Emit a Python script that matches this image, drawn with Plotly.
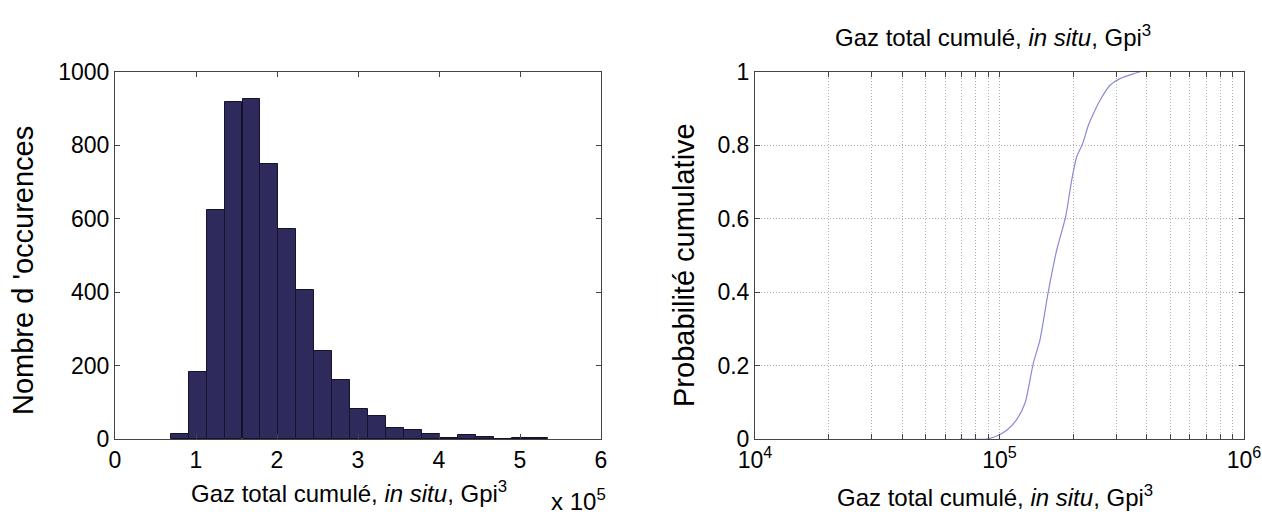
import plotly.graph_objects as go

# ---- Left: histogram (x in units of 1e5 Gpi^3) ----
bin_centers = [0.798, 1.020, 1.241, 1.463, 1.685, 1.907, 2.128, 2.350, 2.572, 2.794,
               3.015, 3.237, 3.459, 3.680, 3.902, 4.124, 4.346, 4.567, 4.789, 5.011, 5.232]
bin_width = 0.2217
counts = [15, 182, 624, 917, 927, 750, 571, 407, 239, 162,
          83, 62, 30, 25, 15, 4, 10, 5, 0, 4, 4]
hist_xticks = [0, 1, 2, 3, 4, 5, 6]
hist_yticks = [0, 200, 400, 600, 800, 1000]

# ---- Right: cumulative probability (log x) ----
cdf_x = [68900, 88600, 98000, 107000, 117600, 127200, 137500, 146400, 158400, 171400,
         186500, 197300, 206900, 218900, 230900, 245800, 257600, 283100, 311100, 352600, 375500]
cdf_p = [0.0, 0.0, 0.009, 0.024, 0.053, 0.098, 0.207, 0.270, 0.402, 0.515,
         0.606, 0.705, 0.769, 0.805, 0.855, 0.896, 0.923, 0.964, 0.982, 0.995, 1.0]
log_tickvals = [1e4, 2e4, 3e4, 4e4, 5e4, 6e4, 7e4, 8e4, 9e4,
                1e5, 2e5, 3e5, 4e5, 5e5, 6e5, 7e5, 8e5, 9e5, 1e6]
log_ticktext = ["10<sup>4</sup>", "", "", "", "", "", "", "", "",
                "10<sup>5</sup>", "", "", "", "", "", "", "", "", "10<sup>6</sup>"]
cdf_yticks = [0, 0.2, 0.4, 0.6, 0.8, 1]

W, H = 1262, 515
FONT = "Liberation Sans, Arial, sans-serif"

def px(x):
    return x / W

def py(y):
    return 1 - y / H

fig = go.Figure()
fig.add_trace(go.Bar(x=bin_centers, y=counts, width=bin_width,
                     marker=dict(color="#2e2a5c", line=dict(color="#15132b", width=1)),
                     xaxis="x", yaxis="y", showlegend=False))
fig.add_trace(go.Scatter(x=cdf_x, y=cdf_p, mode="lines",
                         line=dict(color="#8a8ad6", width=1.2, shape="spline", smoothing=0.6),
                         xaxis="x2", yaxis="y2", showlegend=False))

axis_common = dict(showline=True, linecolor="#444", linewidth=1, mirror="ticks",
                   ticks="inside", ticklen=5, tickcolor="#444", zeroline=False,
                   automargin=False,
                   tickfont=dict(family=FONT, size=23, color="black"))

y_dom = [py(439), py(72)]
fig.update_layout(
    template="none",
    width=W, height=H, margin=dict(l=0, r=0, t=0, b=0, pad=0),
    paper_bgcolor="white", plot_bgcolor="white",
    font=dict(family=FONT, color="black"),
    bargap=0,
    xaxis=dict(domain=[px(115), px(601)], range=[0, 6], tickvals=hist_xticks,
               showgrid=False, anchor="y", **axis_common),
    yaxis=dict(domain=y_dom, range=[0, 1000], tickvals=hist_yticks,
               showgrid=False, anchor="x", **axis_common),
    xaxis2=dict(domain=[px(755), px(1244)], type="log", range=[4, 6],
                tickvals=log_tickvals, ticktext=log_ticktext,
                showgrid=True, gridcolor="#b0b0b0", griddash="1px,2px", gridwidth=1,
                anchor="y2", **axis_common),
    yaxis2=dict(domain=y_dom, range=[0, 1], tickvals=cdf_yticks,
                showgrid=True, gridcolor="#b0b0b0", griddash="1px,2px", gridwidth=1,
                anchor="x2", **axis_common),
)

xtitle = "Gaz total cumulé, <i>in situ</i>, Gpi<sup>3</sup>"
ann = [
    dict(text="Nombre d 'occurences", x=px(23), y=py(271), textangle=-90, font=dict(size=29)),
    dict(text="Probabilité cumulative", x=px(684), y=py(265), textangle=-90, font=dict(size=29)),
    dict(text=xtitle, x=px(349), y=py(492), font=dict(size=24)),
    dict(text="x 10<sup>5</sup>", x=px(578), y=py(500), font=dict(size=24)),
    dict(text=xtitle, x=px(995), y=py(496), font=dict(size=24)),
    dict(text=xtitle, x=px(993), y=py(36), font=dict(size=24)),
]
for a in ann:
    a.update(xref="paper", yref="paper", showarrow=False, xanchor="center", yanchor="middle")
    a["font"].update(family=FONT, color="black")
    fig.add_annotation(**a)

fig.write_html("out.html", config={"displayModeBar": False},
               post_script="document.body.style.margin='0px';document.body.style.overflow='hidden';")
